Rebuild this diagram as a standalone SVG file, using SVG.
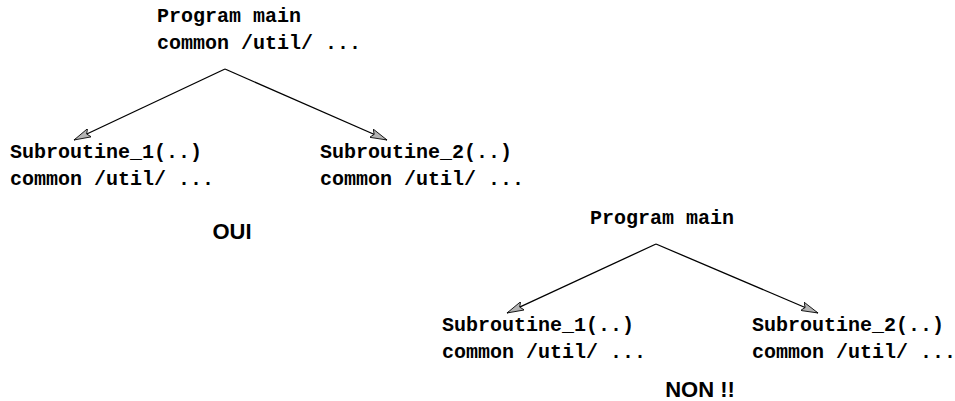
<svg xmlns="http://www.w3.org/2000/svg" width="955" height="401" viewBox="0 0 955 401">
<defs>
<style>
.m{font-family:"Liberation Mono","Courier New",monospace;font-weight:bold;font-size:20px;fill:#000}
.l{font-family:"Liberation Sans",Arial,sans-serif;font-weight:bold;font-size:22px;fill:#000}
.c{stroke:#000;stroke-width:1.3;fill:none;marker-end:url(#ah)}
</style>
<marker id="ah" viewBox="0 0 18 10" refX="17" refY="5" markerWidth="18" markerHeight="10" markerUnits="userSpaceOnUse" orient="auto">
<path d="M0,0.5 L17,5 L0,9.5 L3,5 Z" fill="#b4b4b4" stroke="#000" stroke-width="0.8"/>
</marker>
</defs>
<rect width="955" height="401" fill="#fff"/>
<g id="connectors">
<line class="c" x1="225" y1="69" x2="74" y2="140"/>
<line class="c" x1="225" y1="69" x2="387" y2="140"/>
<line class="c" x1="656" y1="244" x2="507" y2="313"/>
<line class="c" x1="656" y1="244" x2="818" y2="313"/>
</g>
<g id="main1"><text class="m" x="157" y="22">Program main</text><text class="m" x="157" y="49">common /util/ ...</text></g>
<g id="sub1a"><text class="m" x="10" y="158">Subroutine_1(..)</text><text class="m" x="10" y="185">common /util/ ...</text></g>
<g id="sub2a"><text class="m" x="320" y="158">Subroutine_2(..)</text><text class="m" x="320" y="185">common /util/ ...</text></g>
<g id="oui"><text class="l" x="232" y="239" text-anchor="middle">OUI</text></g>
<g id="main2"><text class="m" x="590" y="224">Program main</text></g>
<g id="sub1b"><text class="m" x="442" y="331">Subroutine_1(..)</text><text class="m" x="442" y="358">common /util/ ...</text></g>
<g id="sub2b"><text class="m" x="752" y="331">Subroutine_2(..)</text><text class="m" x="752" y="358">common /util/ ...</text></g>
<g id="non"><text class="l" x="700" y="397" text-anchor="middle">NON !!</text></g>
</svg>
